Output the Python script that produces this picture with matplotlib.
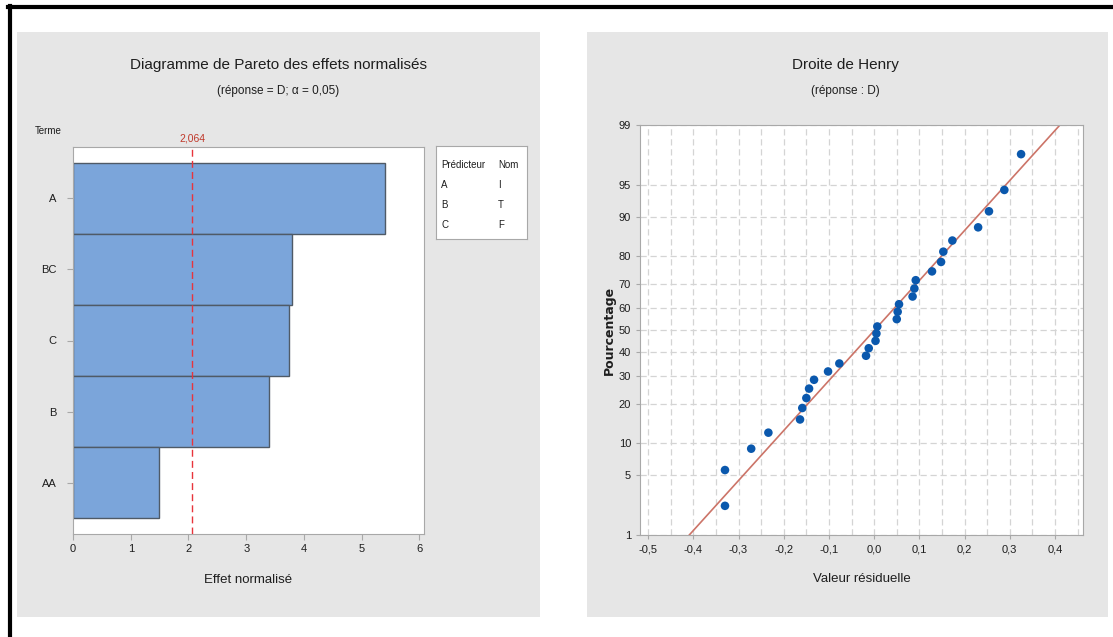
import numpy as np
import matplotlib
matplotlib.use("Agg")
import matplotlib.pyplot as plt
from matplotlib.patches import Rectangle
from matplotlib.lines import Line2D
from statistics import NormalDist

# ---------------- data ----------------
terms = ["A", "BC", "C", "B", "AA"]
effects = [5.40, 3.80, 3.75, 3.39, 1.49]
ref_value = 2.064
ref_label = "2,064"
pareto_xticks = [0, 1, 2, 3, 4, 5, 6]

legend_pred = ["A", "B", "C"]
legend_name = ["I", "T", "F"]

residuals = [-0.330, -0.330, -0.272, -0.234, -0.164, -0.159, -0.150, -0.144,
             -0.133, -0.102, -0.077, -0.018, -0.012, 0.003, 0.005, 0.007,
             0.050, 0.052, 0.055, 0.085, 0.089, 0.092, 0.128, 0.148, 0.153,
             0.173, 0.230, 0.254, 0.288, 0.325]
percents = [2.3, 5.6, 8.9, 12.2, 15.5, 18.8, 22.0, 25.3, 28.6, 31.9, 35.2,
            38.5, 41.8, 45.1, 48.4, 51.6, 54.9, 58.2, 61.5, 64.8, 68.1, 71.4,
            74.7, 78.0, 81.3, 84.5, 87.8, 91.1, 94.4, 97.7]
fit_x = [-0.409, 0.411]
fit_p = [1, 99]
henry_xticks = [-0.5, -0.4, -0.3, -0.2, -0.1, 0.0, 0.1, 0.2, 0.3, 0.4]
henry_xlabels = ["-0,5", "-0,4", "-0,3", "-0,2", "-0,1", "0,0", "0,1", "0,2", "0,3", "0,4"]
henry_yticks = [1, 5, 10, 20, 30, 40, 50, 60, 70, 80, 90, 95, 99]

# ---------------- style ----------------
FONT = ["Liberation Sans", "DejaVu Sans"]
plt.rcParams["font.family"] = FONT
W, H = 1113, 637
fig = plt.figure(figsize=(W / 100, H / 100), dpi=100)
fig.patch.set_facecolor("white")

def fx(x):
    return x / W

def fy(y):
    return 1 - y / H

def rect(x0, y0, x1, y1, **kw):
    fig.patches.append(Rectangle((fx(x0), fy(y1)), fx(x1) - fx(x0), fy(y0) - fy(y1),
                                 transform=fig.transFigure, **kw))

PANEL = "#e6e6e6"
rect(17, 32, 540, 617, facecolor=PANEL, edgecolor="none", zorder=-10)
rect(587, 32, 1108, 617, facecolor=PANEL, edgecolor="none", zorder=-10)

# black frame (top and left)
fig.lines.append(Line2D([fx(9.5), fx(9.5)], [fy(6), 0], transform=fig.transFigure,
                        color="black", lw=3, zorder=-5))
fig.lines.append(Line2D([fx(8), 1], [fy(7), fy(7)], transform=fig.transFigure,
                        color="black", lw=3, zorder=-5))

SPINE = "#a8a8a8"
TXT = "#1e1e1e"

# ---------------- Pareto ----------------
ax1 = fig.add_axes([fx(73), fy(534), fx(424) - fx(73), fy(147) - fy(534)])
ax1.set_facecolor("white")
ypos = np.arange(len(terms))
ax1.barh(ypos, effects, height=1.0, color="#7ba5da", edgecolor="#4f5a66", linewidth=1.0, zorder=2)
ax1.axvline(ref_value, color="#e8343c", ls=(0, (5, 3)), lw=1.0, zorder=3)
ax1.set_xlim(0, 6.08)
ax1.set_ylim(len(terms) - 1 + 0.72, -0.72)
ax1.set_yticks(ypos)
ax1.set_yticklabels(terms)
ax1.set_xticks(pareto_xticks)
ax1.set_xticklabels([str(v) for v in pareto_xticks])
for s in ax1.spines.values():
    s.set_color(SPINE)
ax1.tick_params(axis="both", colors=SPINE, labelcolor=TXT, labelsize=8, length=4, width=0.8)
ax1.tick_params(axis="y", pad=8)
ax1.text(ref_value, 1.01, ref_label, transform=ax1.get_xaxis_transform(), ha="center",
         va="bottom", color="#c0392b", fontsize=7.5)
ax1.set_xlabel("Effet normalisé", fontsize=9.5, color=TXT, labelpad=14)

fig.text(fx(278), fy(65), "Diagramme de Pareto des effets normalisés", ha="center",
         va="center", fontsize=11, color=TXT)
fig.text(fx(278), fy(91), "(réponse = D; α = 0,05)", ha="center", va="center",
         fontsize=8.5, color=TXT)
fig.text(fx(35), fy(131), "Terme", ha="left", va="center", fontsize=7, color=TXT)

# legend table box
axl = fig.add_axes([fx(436), fy(239), fx(527) - fx(436), fy(146) - fy(239)])
axl.set_xticks([])
axl.set_yticks([])
for s in axl.spines.values():
    s.set_color(SPINE)
axl.set_xlim(0, 91)
axl.set_ylim(93, 0)
axl.text(5, 19, "Prédicteur", fontsize=7, color=TXT, va="center", ha="left")
axl.text(62, 19, "Nom", fontsize=7, color=TXT, va="center", ha="left")
for i, (p, n) in enumerate(zip(legend_pred, legend_name)):
    yy = 39 + i * 20
    axl.text(5, yy, p, fontsize=7, color=TXT, va="center", ha="left")
    axl.text(62, yy, n, fontsize=7, color=TXT, va="center", ha="left")

# ---------------- Henry (normal probability) ----------------
nd = NormalDist()
_ppf = np.vectorize(lambda v: nd.inv_cdf(v / 100.0), otypes=[float])
_cdf = np.vectorize(lambda v: nd.cdf(v) * 100.0, otypes=[float])

def fwd(p):
    p = np.clip(np.asarray(p, dtype=float), 1e-6, 100 - 1e-6)
    return _ppf(p)

def inv(z):
    return _cdf(np.asarray(z, dtype=float))

ax2 = fig.add_axes([fx(640), fy(535), fx(1083) - fx(640), fy(125) - fy(535)])
ax2.set_facecolor("white")
ax2.set_yscale("function", functions=(fwd, inv))
ax2.set_ylim(1, 99)
ax2.set_xlim(-0.518, 0.462)
ax2.set_yticks(henry_yticks)
ax2.set_yticklabels([str(v) for v in henry_yticks])
ax2.yaxis.set_minor_locator(matplotlib.ticker.NullLocator())
ax2.set_xticks(henry_xticks)
ax2.set_xticklabels(henry_xlabels)
ax2.set_xticks([v + 0.05 for v in henry_xticks], minor=True)
ax2.grid(True, which="major", axis="both", color="#d4d4d4", ls=(0, (5, 3)), lw=0.9, zorder=0)
ax2.grid(True, which="minor", axis="x", color="#d4d4d4", ls=(0, (5, 3)), lw=0.9, zorder=0)
ax2.tick_params(axis="x", which="minor", length=0)
ax2.set_axisbelow(True)
for s in ax2.spines.values():
    s.set_color(SPINE)
ax2.tick_params(axis="both", which="major", colors=SPINE, labelcolor=TXT, labelsize=8,
                length=3, width=0.8)
ax2.plot(fit_x, fit_p, color="#cc7468", lw=1.2, zorder=2)
ax2.scatter(residuals, percents, s=38, color="#0a58ad", edgecolors="none", zorder=3)
ax2.set_xlabel("Valeur résiduelle", fontsize=9.5, color=TXT, labelpad=14)
ax2.set_ylabel("Pourcentage", fontsize=9, color=TXT, fontweight="bold",
               family=["DejaVu Sans"], labelpad=2)

fig.text(fx(845), fy(65), "Droite de Henry", ha="center", va="center", fontsize=11, color=TXT)
fig.text(fx(845), fy(91), "(réponse : D)", ha="center", va="center", fontsize=8.5, color=TXT)

fig.savefig("out.png", dpi=100, facecolor="white")
